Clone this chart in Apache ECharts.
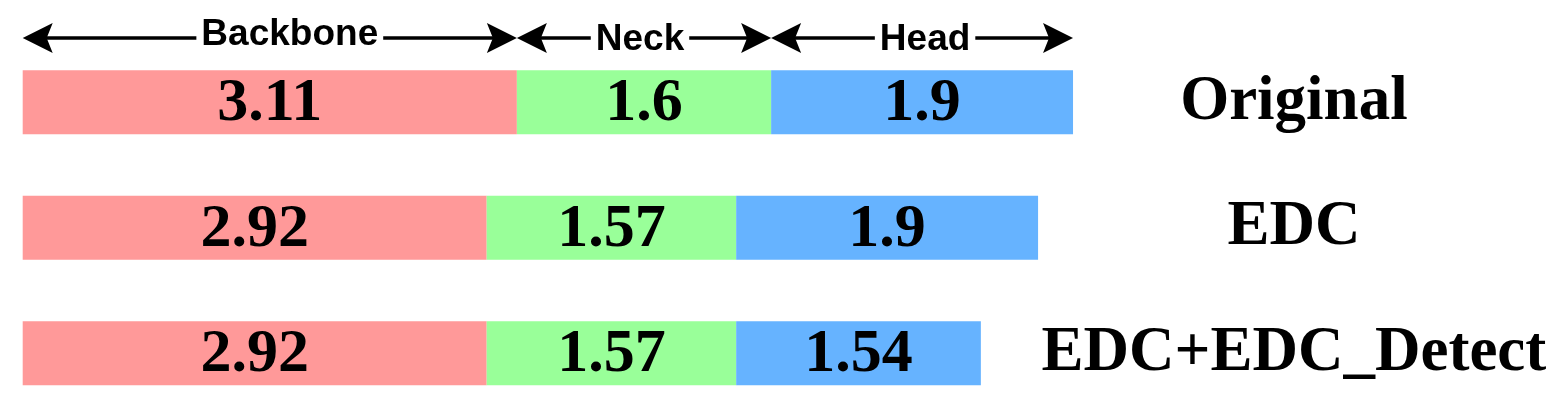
<!DOCTYPE html>
<html>
<head>
<meta charset="utf-8">
<script src="https://cdn.jsdelivr.net/npm/echarts@6/dist/echarts.min.js"></script>
<style>
    html, body { margin: 0; padding: 0; background: #fff; }
    #chart { width: 1564px; height: 416px; }
</style>
</head>
<body>
<div id="chart"></div>
<script>
// rows top to bottom
const rows = ["Original", "EDC", "EDC+EDC_Detect"];
const parts = ["Backbone", "Neck", "Head"];
const backbone = [3.11, 2.92, 2.92];
const neck = [1.6, 1.57, 1.57];
const head = [1.9, 1.9, 1.54];
const colors = ["#ff9999", "#99ff99", "#66b3ff"];

const chart = echarts.init(document.getElementById("chart"));

const numLabel = {
    show: true,
    position: "inside",
    offset: [0, 2],
    color: "#000",
    fontFamily: "Liberation Serif",
    fontWeight: "bold",
    fontSize: 62
};

chart.setOption({
    animation: false,
    grid: { left: 22.7, top: 39.5, width: 1271.2, height: 381 },
    xAxis: { type: "value", min: 0, max: 8, show: false },
    yAxis: {
        type: "category",
        data: rows,
        inverse: true,
        position: "right",
        axisLine: { show: false },
        axisTick: { show: false },
        splitLine: { show: false },
        axisLabel: {
            align: "center",
            margin: 0,
            padding: [4, 0, 0, 0],
            color: "#000",
            fontFamily: "Liberation Serif",
            fontWeight: "bold",
            fontSize: 63
        }
    },
    series: [backbone, neck, head].map((d, i) => ({
        name: parts[i],
        type: "bar",
        stack: "total",
        barWidth: 64,
        data: d,
        itemStyle: { color: colors[i] },
        label: numLabel
    }))
});

// arrows above the top bar
const px = v => chart.convertToPixel({ xAxisIndex: 0 }, v);
const ends = [0, backbone[0], backbone[0] + neck[0], backbone[0] + neck[0] + head[0]];
const lineY = 38;
const textShift = [20, -4, 3];
const textY = [35, 40, 40];
const els = [];
parts.forEach((p, i) => {
    const x0 = px(ends[i]);
    const x1 = px(ends[i + 1]);
    els.push({
        type: "line", z: 100,
        shape: { x1: x0 + 20, y1: lineY, x2: x1 - 20, y2: lineY },
        style: { stroke: "#000", lineWidth: 3.5 }
    });
    els.push({
        type: "polygon", z: 100,
        shape: { points: [[x0, lineY], [x0 + 30, lineY - 15], [x0 + 24, lineY], [x0 + 30, lineY + 15]] },
        style: { fill: "#000" }
    });
    els.push({
        type: "polygon", z: 100,
        shape: { points: [[x1, lineY], [x1 - 30, lineY - 15], [x1 - 24, lineY], [x1 - 30, lineY + 15]] },
        style: { fill: "#000" }
    });
    els.push({
        type: "text", z: 101,
        x: (x0 + x1) / 2 + textShift[i],
        y: textY[i],
        style: {
            text: p,
            fill: "#000",
            font: 'bold 37px "Liberation Sans"',
            align: "center",
            verticalAlign: "middle",
            lineHeight: 37,
            backgroundColor: "#fff",
            padding: [4, 5, 15, 5]
        }
    });
});
chart.setOption({ graphic: { elements: els } });
</script>
</body>
</html>
